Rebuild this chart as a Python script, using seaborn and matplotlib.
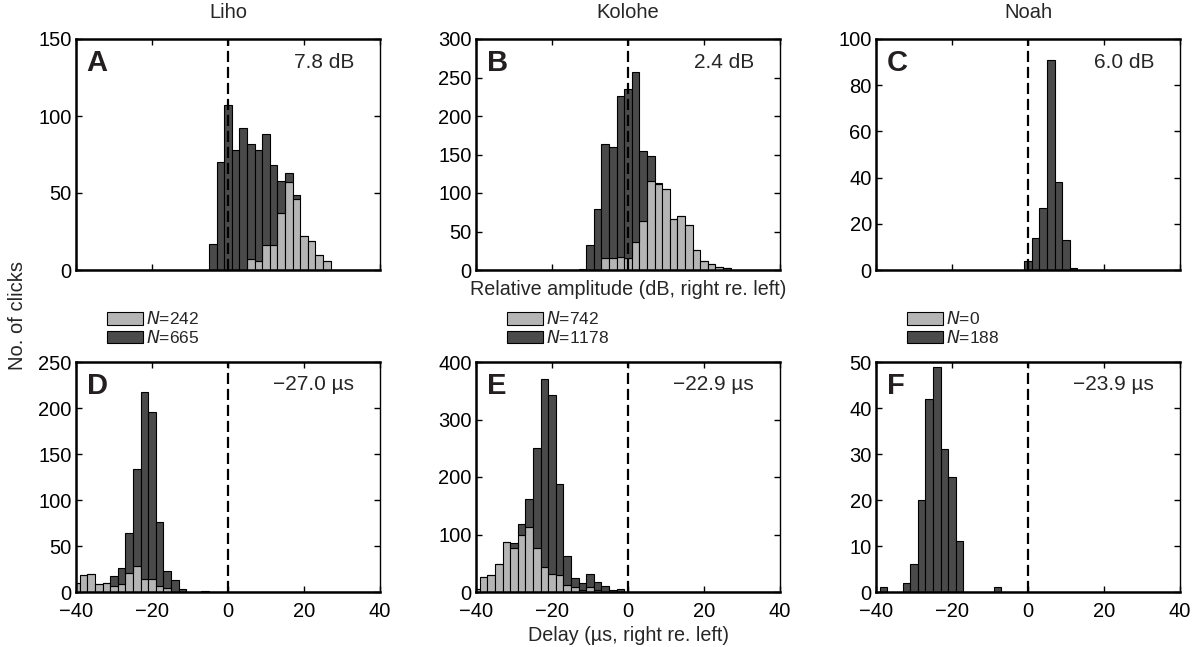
import numpy as np
import pandas as pd
import matplotlib
matplotlib.use("Agg")
import matplotlib.pyplot as plt
import seaborn as sns
from matplotlib.patches import Patch

# ---------------- data ----------------
animals = ["Liho", "Kolohe", "Noah"]
letters_top = ["A", "B", "C"]
letters_bottom = ["D", "E", "F"]
amp_means = ["7.8 dB", "2.4 dB", "6.0 dB"]
delay_means = ["\u221227.0 \u00b5s", "\u221222.9 \u00b5s", "\u221223.9 \u00b5s"]
n_light = [242, 742, 0]
n_dark = [665, 1178, 188]

# relative amplitude histograms (bin centres, 2-dB bins)
liho_amp_x = [-4, -2, 0, 2, 4, 6, 8, 10, 12, 14, 16, 18, 20, 22, 24, 26]
liho_amp_light = [0, 0, 0, 0, 0, 7, 6, 16, 16, 37, 57, 46, 22, 19, 10, 6]
liho_amp_dark = [17, 70, 107, 78, 92, 75, 72, 72, 52, 21, 6, 3, 0, 0, 0, 0]

kolohe_amp_x = [-12, -10, -8, -6, -4, -2, 0, 2, 4, 6, 8, 10, 12, 14, 16, 18, 20, 22, 24, 26]
kolohe_amp_light = [0, 0, 0, 15, 15, 17, 16, 37, 64, 115, 112, 105, 66, 70, 58, 26, 12, 8, 4, 2]
kolohe_amp_dark = [1, 32, 79, 148, 145, 209, 219, 220, 91, 33, 1, 0, 0, 0, 0, 0, 0, 0, 0, 0]

noah_amp_x = [0, 2, 4, 6, 8, 10, 12]
noah_amp_dark = [4, 14, 27, 91, 38, 13, 1]

# delay histograms (bin centres, 2-us bins)
liho_del_x = [-40, -38, -36, -34, -32, -30, -28, -26, -24, -22, -20, -18, -16, -14, -12, -10, -8, -6]
liho_del_light = [10, 19, 20, 9, 10, 7, 9, 21, 28, 14, 14, 6, 4, 0, 0, 0, 0, 0]
liho_del_dark = [0, 0, 0, 0, 0, 10, 17, 43, 106, 203, 182, 70, 19, 13, 3, 0, 0, 1]

kolohe_del_x = [-40, -38, -36, -34, -32, -30, -28, -26, -24, -22, -20, -18, -16, -14, -12, -10, -8, -6, -4, -2]
kolohe_del_light = [6, 26, 30, 49, 87, 77, 99, 113, 76, 44, 32, 29, 13, 9, 3, 8, 3, 0, 0, 0]
kolohe_del_dark = [0, 0, 0, 0, 0, 9, 20, 48, 174, 327, 311, 159, 50, 16, 12, 24, 15, 11, 3, 5]

noah_del_x = [-38, -32, -30, -28, -26, -24, -22, -20, -18, -8]
noah_del_dark = [1, 2, 6, 20, 42, 49, 31, 25, 11, 1]

amp_ylims = [150, 300, 100]
amp_yticks = [[0, 50, 100, 150], [0, 50, 100, 150, 200, 250, 300], [0, 20, 40, 60, 80, 100]]
del_ylims = [250, 400, 50]
del_yticks = [[0, 50, 100, 150, 200, 250], [0, 100, 200, 300, 400], [0, 10, 20, 30, 40, 50]]
xticks = [-40, -20, 0, 20, 40]

DARK = "#4a4a4a"
LIGHT = "#b5b5b5"
BIN_W = 2
BIN_RANGE = (-41, 41)

# ---------------- style ----------------
sns.set_style("ticks")
plt.rcParams["font.family"] = ["Liberation Sans", "DejaVu Sans"]
plt.rcParams["font.size"] = 14

fig = plt.figure(figsize=(11.93, 6.47), dpi=100)
W, H = 1193.0, 647.0
col_left = [76, 476, 876]
ax_w = 304
rows = [(39, 270), (362, 592)]


def make_ax(col, row):
    top, bot = rows[row]
    return fig.add_axes([col_left[col] / W, 1 - bot / H, ax_w / W, (bot - top) / H])


def stacked(ax, xs, light, dark):
    n = len(xs)
    df = pd.DataFrame({"x": list(xs) * 2,
                       "w": list(dark) + list(light),
                       "group": ["dark"] * n + ["light"] * n})
    sns.histplot(data=df, x="x", weights="w", hue="group", hue_order=["dark", "light"],
                 multiple="stack", binwidth=BIN_W, binrange=BIN_RANGE,
                 palette={"dark": DARK, "light": LIGHT},
                 edgecolor="black", linewidth=0.8, alpha=1, legend=False, ax=ax)


def single(ax, xs, dark):
    df = pd.DataFrame({"x": xs, "w": dark})
    sns.histplot(data=df, x="x", weights="w", binwidth=BIN_W, binrange=BIN_RANGE, color=DARK,
                 edgecolor="black", linewidth=0.8, alpha=1, ax=ax)


def style(ax, ylim, yticks, show_xlabels):
    ax.set_xlim(-40, 40)
    ax.set_ylim(0, ylim)
    ax.set_yticks(yticks)
    ax.set_xticks(xticks)
    if show_xlabels:
        ax.set_xticklabels([("\u2212%d" % -t) if t < 0 else str(t) for t in xticks])
    else:
        ax.set_xticklabels([])
    ax.set_xlabel("")
    ax.set_ylabel("")
    ax.tick_params(direction="in", top=True, right=True, length=4, width=1,
                   labelsize=14.5, colors="black")
    ax.tick_params(axis="x", pad=7)
    ax.tick_params(axis="y", pad=3)
    for s in ["left", "bottom", "top"]:
        ax.spines[s].set_linewidth(1.8)
        ax.spines[s].set_color("black")
    ax.spines["right"].set_linewidth(1.0)
    ax.spines["right"].set_color("black")
    ax.axvline(0, color="black", lw=1.6, dashes=(5, 2.2), zorder=10)


amp_data = [(liho_amp_x, liho_amp_light, liho_amp_dark),
            (kolohe_amp_x, kolohe_amp_light, kolohe_amp_dark),
            (noah_amp_x, None, noah_amp_dark)]
del_data = [(liho_del_x, liho_del_light, liho_del_dark),
            (kolohe_del_x, kolohe_del_light, kolohe_del_dark),
            (noah_del_x, None, noah_del_dark)]

for c in range(3):
    # top row: amplitude
    ax = make_ax(c, 0)
    xs, li, dk = amp_data[c]
    if li is None:
        single(ax, xs, dk)
    else:
        stacked(ax, xs, li, dk)
    style(ax, amp_ylims[c], amp_yticks[c], False)
    ax.text(0.5, 1.115, animals[c], transform=ax.transAxes, ha="center", va="center", fontsize=14.5)
    ax.text(0.035, 0.955, letters_top[c], transform=ax.transAxes, ha="left", va="top",
            fontsize=21, fontweight="bold", color="#231f20")
    ax.text(0.915, 0.90, amp_means[c], transform=ax.transAxes, ha="right", va="center", fontsize=15)
    if c == 1:
        ax.text(0.5, -0.085, "Relative amplitude (dB, right re. left)", transform=ax.transAxes,
                ha="center", va="center", fontsize=14.2)

    # bottom row: delay
    ax2 = make_ax(c, 1)
    xs, li, dk = del_data[c]
    if li is None:
        single(ax2, xs, dk)
    else:
        stacked(ax2, xs, li, dk)
    style(ax2, del_ylims[c], del_yticks[c], True)
    ax2.text(0.035, 0.955, letters_bottom[c], transform=ax2.transAxes, ha="left", va="top",
             fontsize=21, fontweight="bold", color="#231f20")
    ax2.text(0.915, 0.90, delay_means[c], transform=ax2.transAxes, ha="right", va="center", fontsize=15)
    if c == 1:
        ax2.text(0.5, -0.19, "Delay (\u00b5s, right re. left)", transform=ax2.transAxes,
                 ha="center", va="center", fontsize=14.2)

    handles = [Patch(facecolor=LIGHT, edgecolor="black", linewidth=0.8),
               Patch(facecolor=DARK, edgecolor="black", linewidth=0.8)]
    labels = ["$\\it{N}$=%d" % n_light[c], "$\\it{N}$=%d" % n_dark[c]]
    leg = ax2.legend(handles, labels, loc="upper left", bbox_to_anchor=(0.102, 1.225),
                     frameon=False, fontsize=12.5, handlelength=2.1, handleheight=0.75,
                     handletextpad=0.15, labelspacing=0.1, borderpad=0, borderaxespad=0)

fig.text(18 / W, 1 - 315 / H, "No. of clicks", rotation=90, ha="center", va="center", fontsize=14.5)

fig.savefig("out.png", dpi=100)
